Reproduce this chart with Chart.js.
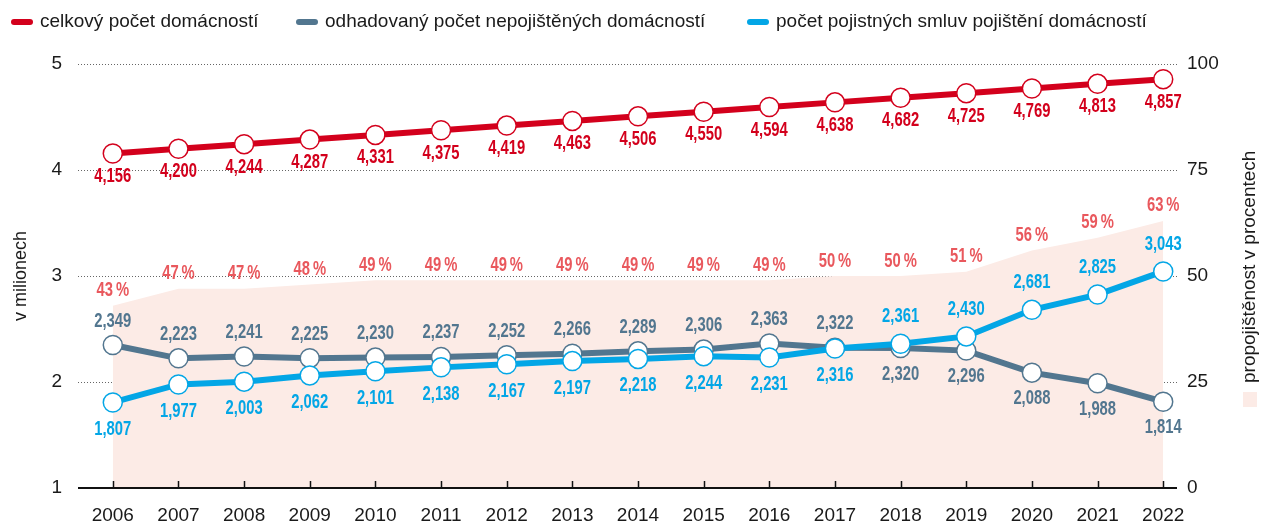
<!DOCTYPE html>
<html>
<head>
<meta charset="utf-8">
<script src="https://cdn.jsdelivr.net/npm/chart.js@4/dist/chart.umd.min.js"></script>
<style>
  html, body { margin: 0; padding: 0; background: #fff; }
  #wrap { width: 1261px; height: 524px; }
</style>
</head>
<body>
<div id="wrap"><canvas id="chart" width="1261" height="524"></canvas></div>
<script>
var years = [2006, 2007, 2008, 2009, 2010, 2011, 2012, 2013, 2014, 2015, 2016, 2017, 2018, 2019, 2020, 2021, 2022];
var households = [4.156, 4.200, 4.244, 4.287, 4.331, 4.375, 4.419, 4.463, 4.506, 4.550, 4.594, 4.638, 4.682, 4.725, 4.769, 4.813, 4.857];
var uninsured = [2.349, 2.223, 2.241, 2.225, 2.230, 2.237, 2.252, 2.266, 2.289, 2.306, 2.363, 2.322, 2.320, 2.296, 2.088, 1.988, 1.814];
var policies = [1.807, 1.977, 2.003, 2.062, 2.101, 2.138, 2.167, 2.197, 2.218, 2.244, 2.231, 2.316, 2.361, 2.430, 2.681, 2.825, 3.043];
var coverage = [43, 47, 47, 48, 49, 49, 49, 49, 49, 49, 49, 50, 50, 51, 56, 59, 63];
var leftTicks = [1, 2, 3, 4, 5];
var rightTicks = [0, 25, 50, 75, 100];

var RED = "#d3001c", GRAY = "#52768f", BLUE = "#03a6e6", PCT = "#e9585d", AREA = "#fcebe6";
// no condensed bold font installed, so squeeze Liberation Sans Bold horizontally
var labelFont = "bold 20px 'Liberation Sans', Arial, sans-serif";
var squeeze = 0.74;

function pts(arr) {
    return arr.map((v, i) => ({ x: years[i], y: v }));
}

function fmt(v) {
    return v.toFixed(3).replace(".", ",");
}

function lineSet(label, arr, color, order) {
    return {
        label: label,
        data: pts(arr),
        yAxisID: "y",
        borderColor: color,
        backgroundColor: color,
        borderWidth: 6,
        pointRadius: 9.5,
        pointHoverRadius: 9.5,
        pointBorderWidth: 1.5,
        pointBorderColor: color,
        pointBackgroundColor: "#fff",
        order: order,
    };
}

// legend, axis titles, x axis line + ticks and value labels
var decor = {
    id: "decor",
    afterDatasetsDraw(chart) {
        var c = chart.ctx;
        var area = chart.chartArea;
        var xs = chart.scales.x;

        c.save();
        c.strokeStyle = "#111";
        c.lineWidth = 2;
        c.beginPath();
        c.moveTo(area.left, area.bottom);
        c.lineTo(area.right, area.bottom);
        c.stroke();
        c.lineWidth = 1.5;
        years.forEach((yr) => {
            var px = Math.round(xs.getPixelForValue(yr)) + 0.5;
            c.beginPath();
            c.moveTo(px, area.bottom);
            c.lineTo(px, area.bottom - 7);
            c.stroke();
        });
        c.restore();

        // value labels
        var metas = chart.getSortedVisibleDatasetMetas();
        metas.forEach((meta) => {
            var ds = chart.data.datasets[meta.index];
            meta.data.forEach((el, i) => {
                var v = ds.raw[i];
                var txt, dy;
                if (ds.key === "red") { txt = fmt(v); dy = 23; }
                else if (ds.key === "gray") { txt = fmt(v); dy = i <= 11 ? -24 : 26; }
                else if (ds.key === "blue") { txt = fmt(v); dy = i <= 11 ? 27 : -27; }
                else { txt = v + "\u2009%"; dy = -15; }
                c.save();
                c.font = labelFont;
                c.textAlign = "center";
                c.textBaseline = "middle";
                c.fillStyle = ds.labelColor;
                c.translate(el.x, el.y + dy);
                c.scale(squeeze, 1);
                c.fillText(txt, 0, 0);
                c.restore();
            });
        });
    },
    afterDraw(chart) {
        var c = chart.ctx;
        c.save();
        // legend
        var items = [
            { x: 11, color: RED, text: "celkový počet domácností" },
            { x: 296, color: GRAY, text: "odhadovaný počet nepojištěných domácností" },
            { x: 747, color: BLUE, text: "počet pojistných smluv pojištění domácností" },
        ];
        c.font = "19px 'Liberation Sans', Arial, sans-serif";
        c.textBaseline = "middle";
        items.forEach((it) => {
            c.strokeStyle = it.color;
            c.lineWidth = 6;
            c.lineCap = "round";
            c.beginPath();
            c.moveTo(it.x + 3, 22);
            c.lineTo(it.x + 19, 22);
            c.stroke();
            c.fillStyle = "#1a1a1a";
            c.textAlign = "left";
            c.fillText(it.text, it.x + 29, 22);
        });

        // left axis title
        var mid = (chart.chartArea.top + chart.chartArea.bottom) / 2;
        c.font = "18px 'Liberation Sans', Arial, sans-serif";
        c.fillStyle = "#1a1a1a";
        c.translate(21, mid);
        c.rotate(-Math.PI / 2);
        c.textAlign = "center";
        c.fillText("v milionech", 0, 0);
        c.restore();

        // right axis title with swatch
        c.save();
        c.fillStyle = AREA;
        c.fillRect(1243, 392, 14, 15);
        c.font = "19px 'Liberation Sans', Arial, sans-serif";
        c.fillStyle = "#1a1a1a";
        c.translate(1250, 383);
        c.rotate(-Math.PI / 2);
        c.textAlign = "left";
        c.textBaseline = "middle";
        c.fillText("propojištěnost v procentech", 0, 0);
        c.restore();
    },
};

var ds = [
    lineSet("celkový počet domácností", households, RED, 3),
    lineSet("odhadovaný počet nepojištěných domácností", uninsured, GRAY, 2),
    lineSet("počet pojistných smluv pojištění domácností", policies, BLUE, 1),
    {
        label: "propojištěnost v procentech",
        data: pts(coverage),
        yAxisID: "y1",
        borderWidth: 0,
        borderColor: AREA,
        backgroundColor: AREA,
        fill: "origin",
        pointRadius: 0,
        pointHoverRadius: 0,
        order: 10,
    },
];
ds[0].key = "red"; ds[0].raw = households; ds[0].labelColor = RED;
ds[1].key = "gray"; ds[1].raw = uninsured; ds[1].labelColor = GRAY;
ds[2].key = "blue"; ds[2].raw = policies; ds[2].labelColor = BLUE;
ds[3].key = "pct"; ds[3].raw = coverage; ds[3].labelColor = PCT;

var tickFont = { family: "'Liberation Sans', Arial, sans-serif", size: 19 };

var ctx = document.getElementById("chart").getContext("2d");
var myChart = new Chart(ctx, {
    type: "line",
    data: { datasets: ds },
    plugins: [decor],
    options: {
        responsive: false,
        animation: false,
        layout: { padding: { top: 64, left: 0, right: 0, bottom: 0 } },
        plugins: {
            legend: { display: false },
            tooltip: { enabled: false },
        },
        scales: {
            x: {
                type: "linear",
                min: 2005.47,
                max: 2022.21,
                afterBuildTicks: (scale) => {
                    scale.ticks = years.map((y) => ({ value: y }));
                },
                afterFit: (scale) => { scale.height = 36; },
                grid: { display: false },
                border: { display: false },
                ticks: {
                    color: "#1a1a1a",
                    font: tickFont,
                    padding: 8,
                    maxRotation: 0,
                    autoSkip: false,
                    callback: (v) => String(v),
                },
            },
            y: {
                position: "left",
                min: 1,
                max: 5,
                afterBuildTicks: (scale) => {
                    scale.ticks = leftTicks.map((v) => ({ value: v }));
                },
                afterFit: (scale) => { scale.width = 78; },
                grid: {
                    color: (c) => (c.tick && c.tick.value === 1 ? "rgba(0,0,0,0)" : "#666"),
                    lineWidth: 1,
                    drawTicks: false,
                },
                border: { display: false, dash: [1, 2] },
                ticks: { color: "#1a1a1a", font: tickFont, padding: 16 },
            },
            y1: {
                position: "right",
                min: 0,
                max: 100,
                afterBuildTicks: (scale) => {
                    scale.ticks = rightTicks.map((v) => ({ value: v }));
                },
                afterFit: (scale) => { scale.width = 84; },
                grid: { display: false, drawTicks: false },
                border: { display: false },
                ticks: { color: "#1a1a1a", font: tickFont, padding: 10 },
            },
        },
    },
});
</script>
</body>
</html>
